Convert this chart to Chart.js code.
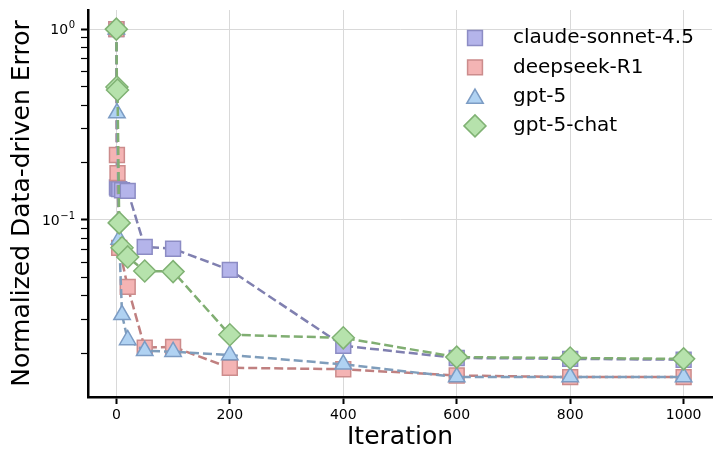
<!DOCTYPE html>
<html>
<head>
<meta charset="utf-8">
<script src="https://cdn.jsdelivr.net/npm/chart.js@4/dist/chart.umd.min.js"></script>
<style>
  html, body { margin: 0; padding: 0; background: #fff; }
  #wrap { width: 714px; height: 450px; }
</style>
</head>
<body>
<div id="wrap"><canvas id="errChart" width="714" height="450"></canvas></div>
<script>
// values (log-scale y)
const iterations = [0, 1, 2, 5, 10, 20, 50, 100, 200, 400, 600, 800, 1000];
const claudeErr   = [1.0, 0.148, 0.146, 0.145, 0.143, 0.142, 0.0722, 0.0706, 0.0547, 0.0219, 0.0189, 0.0187, 0.0185];
const deepseekErr = [1.0, 0.219, 0.176, 0.0714, null, 0.0446, 0.0214, 0.0216, 0.0168, 0.0165, 0.0153, 0.0150, 0.0150];
const gpt5Err     = [1.0, 0.363, null, 0.079, 0.0318, 0.0235, 0.0206, 0.0204, 0.0196, 0.0175, 0.0150, 0.0150, 0.0150];
const gpt5ChatErr = [1.0, 0.497, 0.48, 0.0965, 0.0714, 0.064, 0.054, 0.0536, 0.025, 0.0241, 0.0191, 0.0189, 0.0187];

const xTickValues = [0, 200, 400, 600, 800, 1000];
const yTickValues = [0.02, 0.03, 0.04, 0.05, 0.06, 0.07, 0.08, 0.09, 0.1,
                     0.2, 0.3, 0.4, 0.5, 0.6, 0.7, 0.8, 0.9, 1];
// major y ticks: value -> exponent shown as 10^exp
const yMajorExp = { 1: '0', 0.1: '\u22121' };

const FONT = 'DejaVu Sans';

const toPoints = vals => iterations.map((x, i) => ({ x, y: vals[i] }));

function series(label, vals, style, line, fill, edge, radius, order) {
  return {
    label, data: toPoints(vals), order,
    borderColor: line, borderWidth: 2.5, borderDash: [9, 4],
    pointStyle: style, pointRadius: radius, pointHoverRadius: radius,
    pointBackgroundColor: fill, pointBorderColor: edge, pointBorderWidth: 1.5,
    fill: false, tension: 0, spanGaps: true, clip: false
  };
}

const datasets = [
  series('claude-sonnet-4.5', claudeErr, 'rect', '#8080b0', '#b4b4ea', '#8c8cc4', 10.5, 4),
  series('deepseek-R1', deepseekErr, 'rect', '#c08080', '#f4b4b4', '#cc8c8c', 10.5, 3),
  series('gpt-5', gpt5Err, 'triangle', '#7f9dbb', '#b0d2f2', '#7c9cc4', 9.5, 2),
  series('gpt-5-chat', gpt5ChatErr, 'rectRot', '#80ae72', '#b6e2ac', '#80b274', 11, 1)
];

// legend drawn inside the plot, top right, no frame
function marker(ctx, ds, x, y) {
  const r = ds.pointRadius;
  ctx.beginPath();
  if (ds.pointStyle === 'rect') {
    const s = Math.SQRT1_2 * r;
    ctx.rect(x - s, y - s, 2 * s, 2 * s);
  } else if (ds.pointStyle === 'triangle') {
    for (let k = 0; k < 3; k++) {
      const a = k * 2 * Math.PI / 3;
      ctx[k ? 'lineTo' : 'moveTo'](x + Math.sin(a) * r, y - Math.cos(a) * r);
    }
    ctx.closePath();
  } else {
    ctx.moveTo(x - r, y); ctx.lineTo(x, y - r); ctx.lineTo(x + r, y); ctx.lineTo(x, y + r);
    ctx.closePath();
  }
  ctx.fillStyle = ds.pointBackgroundColor;
  ctx.strokeStyle = ds.pointBorderColor;
  ctx.lineWidth = ds.pointBorderWidth;
  ctx.fill(); ctx.stroke();
}

const insideLegend = {
  id: 'insideLegend',
  afterDraw(chart) {
    const ctx = chart.ctx;
    ctx.save();
    ctx.font = `20px "${FONT}"`;
    ctx.textBaseline = 'middle';
    chart.data.datasets.forEach((ds, i) => {
      const y = 38 + i * 29.3;
      marker(ctx, ds, 475, ds.pointStyle === 'triangle' ? y + 2 : y);
      ctx.fillStyle = '#000';
      ctx.fillText(ds.label, 513, y);
    });
    ctx.restore();
  }
};

// y major labels as 10 with a raised exponent, placed by the y scale
const powerLabels = {
  id: 'powerLabels',
  afterDraw(chart) {
    const ctx = chart.ctx;
    const ys = chart.scales.y;
    ctx.save();
    ctx.fillStyle = '#000';
    ctx.textBaseline = 'alphabetic';
    Object.keys(yMajorExp).forEach(k => {
      const py = ys.getPixelForValue(Number(k));
      const exp = yMajorExp[k];
      ctx.font = `10px "${FONT}"`;
      const ew = ctx.measureText(exp).width;
      const right = ys.right - 7 - 6;
      ctx.fillText(exp, right - ew, py - 1);
      ctx.font = `14px "${FONT}"`;
      const bw = ctx.measureText('10').width;
      ctx.fillText('10', right - ew - bw - 0.5, py + 5);
    });
    ctx.restore();
  }
};

new Chart(document.getElementById('errChart'), {
  type: 'line',
  data: { datasets },
  plugins: [insideLegend, powerLabels],
  options: {
    responsive: false,
    animation: false,
    devicePixelRatio: 1,
    layout: { autoPadding: false, padding: { top: 10, right: 2, left: 0, bottom: 0 } },
    plugins: { legend: { display: false }, tooltip: { enabled: false } },
    scales: {
      x: {
        type: 'linear', min: -50, max: 1050,
        afterBuildTicks: s => { s.ticks = xTickValues.map(v => ({ value: v })); },
        afterFit: s => { s.height = 53; s.paddingLeft = 0; s.paddingRight = 0; },
        ticks: { color: '#000', font: { family: FONT, size: 14 }, padding: 3, maxRotation: 0,
                 callback: v => String(v) },
        grid: { color: '#d9d9d9', lineWidth: 1, tickLength: 7, tickColor: '#000', tickWidth: 2 },
        border: { display: true, color: '#000', width: 2.5 },
        title: { display: true, text: 'Iteration', color: '#000',
                 font: { family: FONT, size: 25, lineHeight: 1 }, padding: { top: 0, bottom: 0 } }
      },
      y: {
        type: 'logarithmic', min: 0.0118, max: 1.26,
        afterBuildTicks: s => { s.ticks = yTickValues.map(v => ({ value: v })); },
        afterFit: s => { s.width = 88; s.paddingTop = 0; s.paddingBottom = 0; },
        ticks: { autoSkip: false, color: '#000', font: { family: FONT, size: 14 }, padding: 3,
                 callback: () => '' },
        grid: {
          color: c => (c.tick && yMajorExp[c.tick.value]) ? '#d9d9d9' : 'rgba(0,0,0,0)',
          lineWidth: 1, tickLength: 7, tickColor: '#000',
          tickWidth: c => (c.tick && yMajorExp[c.tick.value]) ? 2 : 1.2
        },
        border: { display: true, color: '#000', width: 2.5 },
        title: { display: true, text: 'Normalized Data-driven Error', color: '#000',
                 font: { family: FONT, size: 25, lineHeight: 1.2 }, padding: { top: 7, bottom: 0 } }
      }
    }
  }
});
</script>
</body>
</html>
